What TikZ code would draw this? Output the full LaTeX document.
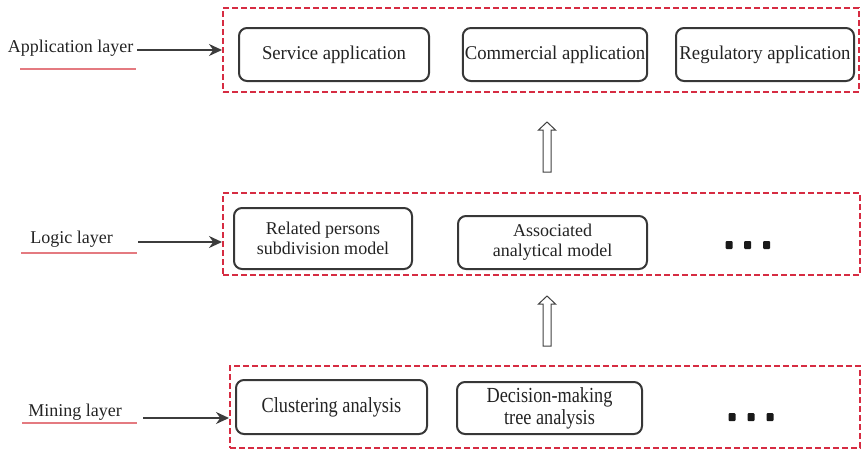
\documentclass[tikz,border=0pt]{standalone}
\usepackage{fontspec}
\setmainfont{Liberation Serif}
\newfontfamily\appfont[FakeStretch=0.96]{Liberation Serif}
\newfontfamily\minefont[FakeStretch=0.85]{Liberation Serif}
\usetikzlibrary{arrows.meta}
\definecolor{dashred}{RGB}{214,44,66}
\definecolor{linered}{RGB}{228,122,128}
\definecolor{boxgray}{RGB}{55,55,55}
\definecolor{inkgray}{RGB}{35,35,35}
\definecolor{arrowgray}{RGB}{60,60,60}
\begin{document}
\begin{tikzpicture}[x=1pt,y=-1pt,
  txt/.style={font=\fontsize{18}{20}\selectfont, text=inkgray},
  apptxt/.style={font=\appfont\fontsize{19.5}{21}\selectfont},
  minetxt/.style={font=\minefont\fontsize{21.5}{22}\selectfont},
  layerbox/.style={draw=dashred, line width=2pt, dash pattern=on 6pt off 3pt,
    rectangle, inner sep=0pt},
  item/.style={txt, draw=boxgray, line width=2pt, rounded corners=8pt,
    align=center, inner sep=2pt},
  laylabel/.style={txt, inner sep=0pt},
  uline/.style={draw=linered, line width=2pt},
  feed/.style={draw=arrowgray, line width=1.8pt, -{Stealth[length=13pt,width=12pt]}},
  dotmark/.style={fill=black!90, rectangle, rounded corners=1pt, inner sep=0pt,
    minimum width=7pt, minimum height=8pt},
  hollowup/.pic={
    \draw[draw=black!75, line width=1pt, line join=miter]
      (-4,0) -- (-4,-42) -- (-8.5,-42) -- (0,-50) -- (8.5,-42) -- (4,-42) -- (4,0) -- cycle;
  }]
\useasboundingbox (0,0) rectangle (862,451);

% ---- layer frames ----
\node[layerbox, minimum width=636pt, minimum height=84pt] (appbox) at (541,50) {};
\node[layerbox, minimum width=637pt, minimum height=82pt] (logicbox) at (541.5,234) {};
\node[layerbox, minimum width=630pt, minimum height=82pt] (minebox) at (545,407) {};

% ---- application layer ----
\node[item, apptxt, minimum width=190pt, minimum height=53pt] (svc) at (334,54.5) {Service application};
\node[item, apptxt, minimum width=184pt, minimum height=53pt] (com) at (555,54.5) {Commercial application};
\node[item, apptxt, minimum width=178pt, minimum height=53pt] (reg) at (765,54.5) {Regulatory application};

% ---- logic layer ----
\node[item, minimum width=178pt, minimum height=61pt] (rel) at (323,238.5) {Related persons\\subdivision model};
\node[item, minimum width=189pt, minimum height=53pt] (asm) at (552.5,242.5) {Associated\\analytical model};
\node[dotmark] (ld1) at (729,245) {};
\node[dotmark] (ld2) at (747.5,245) {};
\node[dotmark] (ld3) at (766.5,245) {};

% ---- mining layer ----
\node[item, minetxt, minimum width=191pt, minimum height=54pt] (clu) at (331.5,407) {Clustering analysis};
\node[item, minetxt, minimum width=185pt, minimum height=52pt] (dec) at (549.5,408) {Decision-making\\tree analysis};
\node[dotmark] (md1) at (732,417) {};
\node[dotmark] (md2) at (751,417) {};
\node[dotmark] (md3) at (770,417) {};

% ---- flow between layers ----
\pic at (547,172) {hollowup};
\pic at (547,346) {hollowup};

% ---- layer names ----
\node[laylabel] (lapp) at (70.5,48) {Application layer};
\node[laylabel] (llog) at (71.5,239) {Logic layer};
\node[laylabel] (lmin) at (75,412) {Mining layer};

\draw[uline] (20,69) -- (136,69);
\draw[uline] (21,253) -- (137,253);
\draw[uline] (22,423) -- (137,423);

\coordinate (sapp) at (137,50);
\coordinate (slog) at (138,242);
\coordinate (smin) at (143,418);
\draw[feed] (sapp) -- (sapp -| appbox.west);
\draw[feed] (slog) -- (slog -| logicbox.west);
\draw[feed] (smin) -- (smin -| minebox.west);
\end{tikzpicture}
\end{document}
